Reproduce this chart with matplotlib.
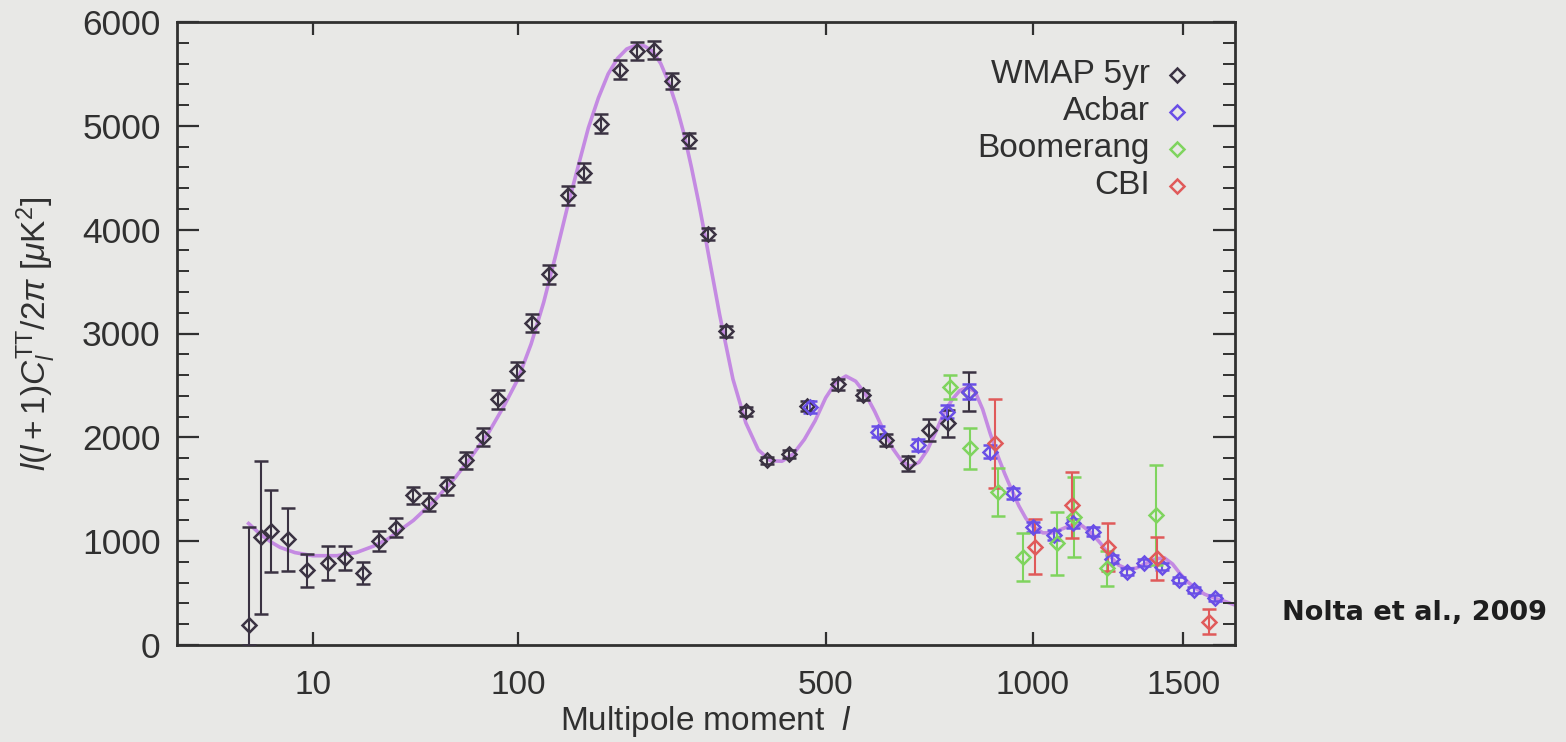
import numpy as np
import matplotlib
matplotlib.use("Agg")
import matplotlib.pyplot as plt
from matplotlib.ticker import FixedLocator, MultipleLocator, NullLocator

plt.rcParams['font.family'] = ['Liberation Sans', 'DejaVu Sans']
plt.rcParams['mathtext.fontset'] = 'custom'
plt.rcParams['mathtext.rm'] = 'Liberation Sans'
plt.rcParams['mathtext.it'] = 'Liberation Sans:italic'

# best fit curve
fit_l = [2, 3, 4, 5, 7, 10, 15, 20, 25, 30, 40, 50, 60, 70, 80, 90, 100, 110,
         120, 130, 140, 150, 160, 170, 180, 190, 200, 210, 220, 230, 240, 250,
         260, 270, 280, 290, 300, 320, 340, 360, 380, 400, 420, 440, 460, 480,
         500, 520, 540, 560, 580, 600, 620, 640, 660, 680, 700, 720, 740, 760,
         780, 800, 820, 840, 860, 880, 900, 920, 940, 960, 980, 1000, 1030,
         1060, 1090, 1120, 1150, 1180, 1210, 1240, 1270, 1300, 1330, 1360,
         1400, 1430, 1460, 1490, 1520, 1550, 1580, 1620, 1660, 1700]
fit_d = [1170, 1060, 990, 940, 890, 860, 860, 890, 950, 1020, 1200, 1400, 1610,
         1830, 2050, 2300, 2560, 2900, 3300, 3750, 4200, 4600, 4980, 5270, 5500,
         5650, 5740, 5775, 5770, 5720, 5600, 5420, 5190, 4920, 4600, 4260, 3900,
         3180, 2560, 2140, 1880, 1775, 1770, 1840, 1980, 2160, 2380, 2530, 2590,
         2540, 2420, 2250, 2060, 1890, 1770, 1720, 1760, 1880, 2050, 2230, 2360,
         2450, 2480, 2440, 2270, 2040, 1830, 1650, 1490, 1340, 1220, 1140, 1080,
         1080, 1120, 1160, 1150, 1080, 980, 860, 770, 730, 740, 780, 830, 840,
         780, 680, 600, 540, 490, 450, 420, 385]

# WMAP 5yr
wmap_l = [2, 3, 4, 6, 9, 13, 17, 22, 27, 33, 40, 47, 56, 66, 76, 86, 99,
          111, 124, 141, 156, 173, 193, 212, 232, 254, 277, 303, 329, 360, 394,
          432, 464, 524, 575, 625, 675, 724, 771, 825]
wmap_d = [193, 1043, 1101, 1018, 722, 793, 835, 696, 1002, 1124, 1445, 1371,
          1541, 1782, 2006, 2366, 2640,
          3100, 3570, 4330, 4550, 5020, 5540, 5720, 5730, 5430, 4860, 3960, 3020,
          2250, 1780, 1840, 2300, 2510, 2408, 1974, 1750, 2071, 2135, 2440]
wmap_lo = [193, 744, 395, 302, 166, 167, 113, 109, 94, 87, 87, 78, 96, 90, 89,
           96, 90,
           90, 90, 90, 90, 90, 90, 85, 85, 80, 70, 60, 50, 40, 35, 35, 50, 50,
           50, 60, 70, 110, 130, 185]
wmap_hi = [943, 729, 392, 298, 154, 164, 122, 100, 99, 96, 80, 90, 80, 80, 81,
           90, 90,
           90, 90, 90, 90, 90, 90, 85, 85, 80, 70, 60, 50, 40, 35, 35, 50, 50,
           50, 60, 70, 110, 130, 185]

# Acbar
acbar_l = [470, 608, 698, 767, 825, 880, 943, 1000, 1063, 1121, 1184, 1247,
           1300, 1356, 1421, 1482, 1540, 1621]
acbar_d = [2290, 2054, 1926, 2247, 2440, 1862, 1461, 1139, 1059, 1172, 1091,
           825, 706, 793, 754, 626, 530, 450]
acbar_e = [60, 55, 55, 60, 70, 60, 55, 50, 45, 45, 45, 40, 35, 35, 35, 30, 30, 30]

# Boomerang
boom_l = [776, 827, 901, 972, 1071, 1125, 1230, 1400]
boom_d = [2488, 1894, 1470, 850, 979, 1235, 740, 1252]
boom_e = [115, 200, 230, 230, 305, 385, 170, 480]

# CBI
cbi_l = [893, 1006, 1118, 1236, 1403, 1599]
cbi_d = [1942, 947, 1348, 947, 835, 225]
cbi_e = [430, 265, 320, 230, 205, 120]

xticks = [10, 100, 500, 1000, 1500]
legend_names = ['WMAP 5yr', 'Acbar', 'Boomerang', 'CBI']

bg = '#e8e8e6'
ink = '#303030'
c_wmap = '#3a3242'
c_acbar = '#6a4fe6'
c_boom = '#7fd45e'
c_cbi = '#e05a5a'
c_fit = '#c48ae2'

fig = plt.figure(figsize=(15.66, 7.42), dpi=100, facecolor=bg)
ax = fig.add_axes([177.4 / 1566, 1 - 645 / 742, 1057.6 / 1566, 623 / 742])
ax.set_facecolor(bg)


def fwd(l):
    l = np.asarray(l, dtype=float)
    return np.sign(l) * np.abs(l) ** 0.4


def inv(u):
    u = np.asarray(u, dtype=float)
    return np.sign(u) * np.abs(u) ** 2.5


ax.set_xscale('function', functions=(fwd, inv))
ax.set_xlim(0, 1700)
ax.set_ylim(0, 6000)

ax.plot(fit_l, fit_d, color=c_fit, lw=2.6, zorder=1)

ekw = dict(fmt='D', ms=7.5, mew=1.8, mfc='none', elinewidth=1.5, capsize=5,
           capthick=1.5, zorder=3)
ax.errorbar(wmap_l, wmap_d, yerr=[wmap_lo, wmap_hi], color=c_wmap, mec=c_wmap, **ekw)
ax.errorbar(acbar_l, acbar_d, yerr=acbar_e, color=c_acbar, mec=c_acbar, **ekw)
ax.errorbar(boom_l, boom_d, yerr=boom_e, color=c_boom, mec=c_boom, **ekw)
ax.errorbar(cbi_l, cbi_d, yerr=cbi_e, color=c_cbi, mec=c_cbi, **ekw)

# legend: names right aligned, marker to the right
leg_colors = [c_wmap, c_acbar, c_boom, c_cbi]
for i, (name, col) in enumerate(zip(legend_names, leg_colors)):
    yy = 1 - (75 + 37 * i - 22) / 623
    ax.text((1150 - 177.4) / 1057.6, yy, name, transform=ax.transAxes,
            ha='right', va='center', fontsize=24, color=ink)
    ax.plot([(1177 - 177.4) / 1057.6], [yy], transform=ax.transAxes,
            marker='D', ms=7.5, mew=1.8, mfc='none', mec=col, ls='none')

ax.xaxis.set_major_locator(FixedLocator(xticks))
ax.xaxis.set_minor_locator(NullLocator())
ax.set_xticklabels([str(t) for t in xticks])
ax.yaxis.set_major_locator(MultipleLocator(1000))
ax.yaxis.set_minor_locator(MultipleLocator(200))

ax.tick_params(axis='both', which='both', direction='in', colors=ink,
               labelsize=24, top=True, right=True)
ax.tick_params(axis='y', which='major', length=16, width=1.6, pad=12,
               labelsize=25.5)
ax.tick_params(axis='y', which='minor', length=8.5, width=1.4)
ax.tick_params(axis='x', which='major', length=9.5, width=1.6, pad=18)
for sp in ax.spines.values():
    sp.set_color(ink)
    sp.set_linewidth(2)

ax.set_xlabel(r'Multipole moment  $\mathit{l}$', fontsize=24, color=ink)
ax.xaxis.set_label_coords(0.5, -0.095)
ax.set_ylabel(r'$\mathit{l}(\mathit{l}+1)C_{\mathit{l}}^{\mathrm{TT}}/2\pi\ [\mu\mathrm{K}^2]$',
              fontsize=24, color=ink)
ax.yaxis.set_label_coords(-0.113, 0.5)

fig.text(1282 / 1566, 1 - 613 / 742, 'Nolta et al., 2009', fontsize=19.5,
         fontweight='bold', family='DejaVu Sans', color='#1e1e1e', va='center')

fig.savefig('out.png', dpi=100, facecolor=bg)
